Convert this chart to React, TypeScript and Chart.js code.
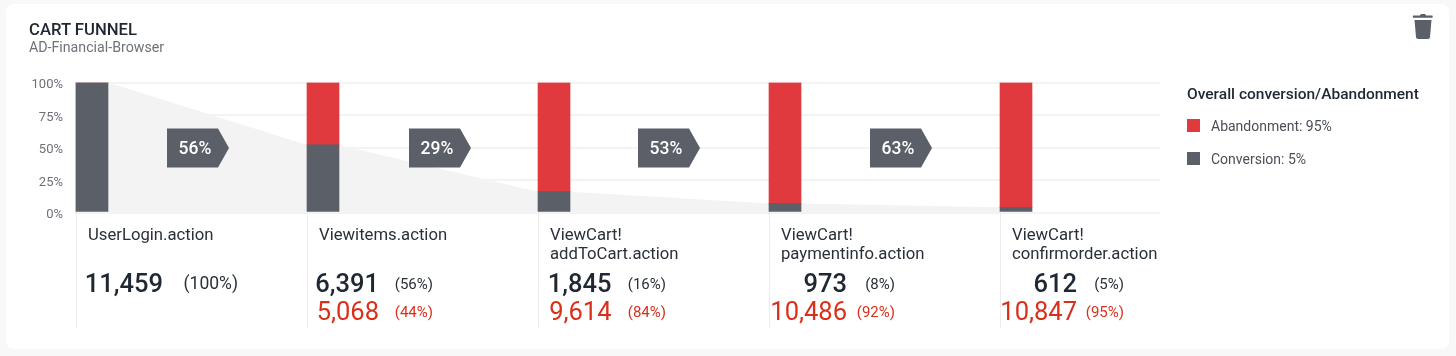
import React, { useEffect, useRef } from "react";
import { Chart, registerables } from "chart.js";

Chart.register(...registerables);

const stages = [
  ["UserLogin.action"],
  ["Viewitems.action"],
  ["ViewCart!", "addToCart.action"],
  ["ViewCart!", "paymentinfo.action"],
  ["ViewCart!", "confirmorder.action"],
];
const conversionShare = [100, 52, 16, 7, 4];
const abandonmentShare = [0, 48, 84, 93, 96];
const conversionCounts = ["11,459", "6,391", "1,845", "973", "612"];
const conversionPercents = ["(100%)", "(56%)", "(16%)", "(8%)", "(5%)"];
const abandonmentCounts = ["", "5,068", "9,614", "10,486", "10,847"];
const abandonmentPercents = ["", "(44%)", "(84%)", "(92%)", "(95%)"];
const stepRates = ["56%", "29%", "53%", "63%"];
const legendItems = [
  { label: "Abandonment: 95%", color: "#e0393e" },
  { label: "Conversion: 5%", color: "#5b5f68" },
];

const BAR_PX = 32;
const STEP_PX = 231;
const HALF_BAR = BAR_PX / 2 / STEP_PX;
const DARK = "#1f2733";
const RED = "#d9301c";
const tagOffsets = [91, 102, 100, 101];
const countRight = [87, 72, 73.5, 78, 77];
const pctRight = [162, 126, 128, 126, 124];

const funnelPlugin = {
  id: "funnelPlugin",
  afterDraw(chart: any) {
    const { ctx, scales } = chart;
    const x = scales.x;
    const y = scales.y;
    ctx.save();
    ctx.strokeStyle = "#ececec";
    ctx.lineWidth = 1;
    stages.forEach((_, i) => {
      const left = Math.round(x.getPixelForValue(i) - BAR_PX / 2) + 0.5;
      ctx.beginPath();
      ctx.moveTo(left, y.getPixelForValue(0));
      ctx.lineTo(left, 328);
      ctx.stroke();
    });
    stepRates.forEach((rate, i) => {
      const l = x.getPixelForValue(i) - BAR_PX / 2 + tagOffsets[i];
      const cy = y.getPixelForValue(50) + 0.5;
      ctx.fillStyle = "#5b5f68";
      ctx.beginPath();
      ctx.moveTo(l, cy - 19.5);
      ctx.lineTo(l + 51, cy - 19.5);
      ctx.lineTo(l + 62, cy);
      ctx.lineTo(l + 51, cy + 19.5);
      ctx.lineTo(l, cy + 19.5);
      ctx.closePath();
      ctx.fill();
      ctx.fillStyle = "#ffffff";
      ctx.font = "500 17.5px Roboto";
      ctx.textAlign = "center";
      ctx.textBaseline = "alphabetic";
      ctx.fillText(rate, l + 28, cy + 5.5);
    });
    stages.forEach((_, i) => {
      const left = x.getPixelForValue(i) - BAR_PX / 2;
      ctx.textAlign = "right";
      ctx.textBaseline = "alphabetic";
      ctx.fillStyle = DARK;
      ctx.font = "500 25.5px Roboto";
      ctx.fillText(conversionCounts[i], left + countRight[i], 292);
      ctx.font = (i === 0 ? "400 17.5px" : "400 15px") + " Roboto";
      ctx.fillStyle = "#2a3039";
      ctx.fillText(conversionPercents[i], left + pctRight[i], 289);
      if (abandonmentCounts[i]) {
        ctx.fillStyle = RED;
        ctx.font = "400 25.5px Roboto";
        ctx.fillText(abandonmentCounts[i], left + countRight[i], 320);
        ctx.font = "400 15px Roboto";
        ctx.fillText(abandonmentPercents[i], left + pctRight[i], 317);
      }
    });
    ctx.restore();
  },
};

export default function App() {
  const ref = useRef<HTMLCanvasElement>(null);
  useEffect(() => {
    const chart = new Chart(ref.current as HTMLCanvasElement, {
      type: "bar",
      data: {
        datasets: [
          {
            type: "line",
            label: "Funnel",
            stack: "area",
            order: 3,
            data: conversionShare.flatMap((v, i) => {
              if (i === 0) return [{ x: i + HALF_BAR, y: v }];
              if (i === conversionShare.length - 1) return [{ x: i - HALF_BAR, y: v }];
              return [
                { x: i - HALF_BAR, y: v },
                { x: i + HALF_BAR, y: v },
              ];
            }),
            borderWidth: 0,
            pointRadius: 0,
            tension: 0,
            fill: "origin",
            backgroundColor: "#f3f3f3",
          } as any,
          {
            label: "Conversion",
            stack: "s",
            order: 1,
            data: conversionShare.map((v, i) => ({ x: i, y: v })),
            backgroundColor: legendItems[1].color,
            barThickness: BAR_PX,
          } as any,
          {
            label: "Abandonment",
            stack: "s",
            order: 1,
            data: abandonmentShare.map((v, i) => ({ x: i, y: v })),
            backgroundColor: legendItems[0].color,
            barThickness: BAR_PX,
          } as any,
        ],
      },
      options: {
        animation: false,
        responsive: false,
        layout: { padding: { top: 82.5, right: 296, left: 0, bottom: 0 } },
        plugins: { legend: { display: false }, tooltip: { enabled: false } },
        scales: {
          x: {
            type: "linear",
            stacked: true,
            offset: false,
            min: -17 / STEP_PX,
            max: (1160 - 92) / STEP_PX,
            grid: { display: false, offset: false },
            border: { display: false },
            afterBuildTicks(s: any) {
              s.ticks = stages.map((_, i) => ({ value: i }));
            },
            afterFit(s: any) {
              s.height = 143.5;
              s.paddingLeft = 0;
              s.paddingRight = 0;
            },
            ticks: {
              autoSkip: false,
              maxRotation: 0,
              minRotation: 0,
              align: "start",
              labelOffset: -4,
              padding: 5.5,
              color: "#2a3039",
              font: { family: "Roboto", size: 16.7, lineHeight: 1.15 },
              callback: (v: any) => stages[v] as any,
            },
          },
          y: {
            stacked: true,
            min: 0,
            max: 100,
            afterFit(s: any) {
              s.width = 75;
            },
            grid: { color: "#f3f3f3", lineWidth: 2, tickLength: 0 },
            border: { display: true, color: "#ececec" },
            ticks: {
              stepSize: 25,
              padding: 12,
              labelOffset: 2.5,
              color: "#6e7178",
              font: { family: "Roboto", size: 13 },
              callback: (v: any) => v + "%",
            },
          },
        },
      },
      plugins: [funnelPlugin],
    } as any);
    return () => chart.destroy();
  }, []);

  return (
    <div style={{ position: "fixed", left: 0, top: 0, width: 1456, height: 356, background: "#f8f8f8", fontFamily: "Roboto", overflow: "hidden" }}>
      <div style={{ position: "absolute", left: 6, top: 4, width: 1443, height: 345, background: "#ffffff", borderRadius: 8 }} />
      <canvas ref={ref} width={1456} height={356} style={{ position: "absolute", left: 0, top: 0, display: "block" }} />
      <div style={{ position: "absolute", left: 29, top: 21, fontSize: 16.7, lineHeight: "18px", fontWeight: 500, color: DARK, whiteSpace: "nowrap" }}>CART FUNNEL</div>
      <div style={{ position: "absolute", left: 29, top: 39, fontSize: 14.2, lineHeight: "16px", color: "#6e7178", whiteSpace: "nowrap" }}>AD-Financial-Browser</div>
      <div style={{ position: "absolute", left: 1187, top: 86, fontSize: 15.5, lineHeight: "17px", fontWeight: 500, color: DARK, whiteSpace: "nowrap" }}>Overall conversion/Abandonment</div>
      {legendItems.map((item, i) => (
        <React.Fragment key={item.label}>
          <div style={{ position: "absolute", left: 1187, top: 119 + i * 33, width: 13, height: 13, background: item.color }} />
          <div style={{ position: "absolute", left: 1211, top: 118 + i * 33, fontSize: 14, lineHeight: "16px", color: "#4a4e56", whiteSpace: "nowrap" }}>{item.label}</div>
        </React.Fragment>
      ))}
      <svg style={{ position: "absolute", left: 1412, top: 13 }} width={22} height={27} viewBox="0 0 22 27">
        <path d="M8 2.5 C8 1.5 9 1 10 1 H12 C13 1 14 1.5 14 2.5 H20 C21 2.5 21 4.8 20 4.8 H1.5 C0.5 4.8 0.5 2.5 1.5 2.5 Z" fill="#5b5f68" />
        <path d="M2.5 7 H19.5 L18 24 C17.9 25.3 17 26 16 26 H6 C5 26 4.1 25.3 4 24 Z" fill="#5b5f68" />
      </svg>
    </div>
  );
}
